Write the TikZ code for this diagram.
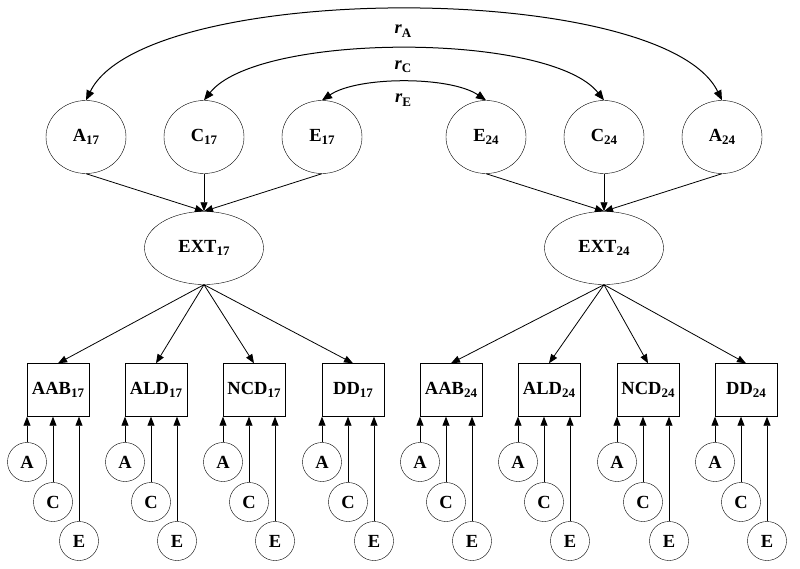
\documentclass[tikz,border=0pt]{standalone}
\usepackage{fontspec}
\setmainfont{Liberation Serif}
\usetikzlibrary{shapes.geometric,arrows.meta}
\newcommand\mysub[1]{\raisebox{-0.4ex}{\fontsize{13}{14}\selectfont #1}}
\begin{document}
\begin{tikzpicture}[x=1pt,y=-1pt,
  every node/.style={font=\fontsize{18.5}{21}\selectfont\bfseries},
  lat/.style={draw,ellipse,minimum width=80pt,minimum height=73pt,inner sep=0pt},
  ext/.style={draw,ellipse,minimum width=119pt,minimum height=73pt,inner sep=0pt},
  obs/.style={draw,rectangle,minimum width=62pt,minimum height=53pt,inner sep=0pt},
  res/.style={draw,circle,minimum size=39pt,inner sep=0pt},
  arr/.style={line width=0.8pt,-{Triangle[length=9pt,width=7pt]}},
  darr/.style={line width=1pt,{Triangle[length=10pt,width=8pt]}-{Triangle[length=10pt,width=8pt]}},
  lbl/.style={inner sep=0pt}
]
\useasboundingbox (0,0) rectangle (800,569);
% top latent factors
\node[lat] (A17) at (86,137) {A\mysub{17}};
\node[lat] (C17) at (204,137) {C\mysub{17}};
\node[lat] (E17) at (322,137) {E\mysub{17}};
\node[lat] (E24) at (486,137) {E\mysub{24}};
\node[lat] (C24) at (604,137) {C\mysub{24}};
\node[lat] (A24) at (722,137) {A\mysub{24}};
% EXT
\node[ext] (X17) at (204,248) {EXT\mysub{17}};
\node[ext] (X24) at (604,248) {EXT\mysub{24}};
% correlations
\draw[darr] (A17.north) .. controls (145,-20) and (663,-20) .. (A24.north);
\draw[darr] (C17.north) .. controls (258,32) and (550,32) .. (C24.north);
\draw[darr] (E17.north) .. controls (358,76) and (450,76) .. (E24.north);
\node[lbl] (rA) at (403,31) {\textit{r}\mysub{A}};
\node[lbl] (rC) at (403,67) {\textit{r}\mysub{C}};
\node[lbl] (rE) at (403,100) {\textit{r}\mysub{E}};
% paths to EXT
\foreach \s in {17,24}{
  \draw[arr] (A\s.south) -- (X\s.north);
  \draw[arr] (C\s.south) -- (X\s.north);
  \draw[arr] (E\s.south) -- (X\s.north);
}
% observed boxes
\foreach \n/\lab/\x/\s in {b1/AAB/58/17,b2/ALD/156/17,b3/NCD/254/17,b4/DD/353/17,
                          b5/AAB/451/24,b6/ALD/549/24,b7/NCD/648/24,b8/DD/746/24}{
  \node[obs] (\n) at (\x,390) {\lab\mysub{\s}};
  \draw[arr] (X\s.south) -- (\n.north);
  \node[res] (\n A) at (\x-31,462) {A};
  \node[res] (\n C) at (\x-5,502) {C};
  \node[res] (\n E) at (\x+21,541) {E};
  \draw[arr] (\n A.north) -- (\n A.north |- \n.south);
  \draw[arr] (\n C.north) -- (\n C.north |- \n.south);
  \draw[arr] (\n E.north) -- (\n E.north |- \n.south);
}
\end{tikzpicture}
\end{document}
